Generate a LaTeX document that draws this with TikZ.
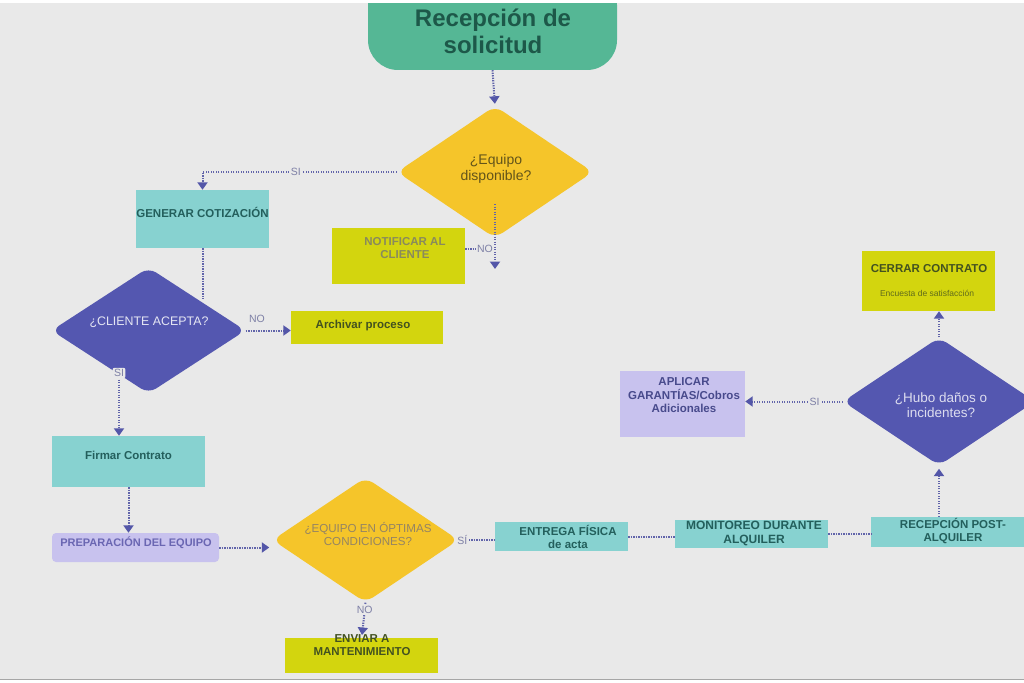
\documentclass[tikz,border=0pt]{standalone}
\usepackage{fontspec}
\setmainfont{Liberation Sans}
\usetikzlibrary{shapes.geometric,arrows.meta}
\definecolor{bgc}{HTML}{E9E9E9}
\definecolor{startc}{HTML}{55B795}
\definecolor{titlec}{HTML}{1D5849}
\definecolor{yel}{HTML}{F5C52A}
\definecolor{tealc}{HTML}{87D2D0}
\definecolor{limec}{HTML}{D3D50E}
\definecolor{purp}{HTML}{5457B0}
\definecolor{lav}{HTML}{C8C2EE}
\definecolor{connc}{HTML}{6164AA}
\definecolor{arrc}{HTML}{5356A8}
\definecolor{lblc}{HTML}{7E80A6}
\definecolor{tealtxt}{HTML}{235F5C}
\definecolor{olivetxt}{HTML}{435220}
\definecolor{yeltxt}{HTML}{62541A}
\definecolor{lavtxt}{HTML}{6A66B2}
\definecolor{apltxt}{HTML}{484A8C}
\begin{document}
\begin{tikzpicture}[x=1pt,y=-1pt,
  box/.style={rectangle, inner sep=0pt, minimum width=#1, draw=none},
  tealbox/.style={box=133pt, fill=tealc},
  limebox/.style={box=133pt, fill=limec},
  dia/.style={diamond, inner sep=0pt, rounded corners=9pt, draw=none},
  btxt/.style={font=\fontsize{11.5}{13.5}\selectfont\bfseries, align=center, inner sep=0pt},
  lbl/.style={font=\fontsize{10.5}{11}\selectfont, text=lblc, inner sep=1.5pt},
  conn/.style={draw=connc, line width=2pt, dash pattern=on 1.3pt off 1.2pt},
  arr/.style={conn, -{Triangle[width=10pt,length=7.5pt,color=arrc]}}
]
\useasboundingbox (0,0) rectangle (1024,682);
\fill[white] (0,0) rectangle (1024,682);
\fill[bgc] (0,3) rectangle (1024,679);
\draw[black!35, line width=0.8pt] (0,679.4) -- (1024,679.4);

% start
\node[rectangle, fill=startc, rounded corners=30pt, minimum width=249pt, minimum height=95pt, inner sep=0pt] (start) at (492.5,22.5) {};
\node[font=\fontsize{24}{27}\selectfont\bfseries, text=titlec, align=center] (title) at (493,31) {Recepción de\\solicitud};

% diamonds
\node[dia, fill=yel, minimum width=196pt, minimum height=132pt] (d1) at (495,172) {};
\node[font=\fontsize{14}{16.5}\selectfont, text=yeltxt, align=center] (d1t) at (496,169) {¿Equipo\\disponible?};

\node[dia, fill=purp, minimum width=194pt, minimum height=126pt] (d2) at (148.5,330.5) {};
\node[font=\fontsize{12.4}{14}\selectfont, text=white!85!purp] (d2t) at (149,322) {¿CLIENTE ACEPTA?};

\node[dia, fill=yel, minimum width=186pt, minimum height=125pt] (d3) at (365.5,540) {};
\node[font=\fontsize{11.6}{13.5}\selectfont, text=yel!40!lblc!85!black, align=center] (d3t) at (368,534) {¿EQUIPO EN ÓPTIMAS\\CONDICIONES?};

\node[dia, fill=purp, minimum width=192pt, minimum height=128pt] (d4) at (939,401.5) {};
\node[font=\fontsize{13.5}{14.5}\selectfont, text=white!80!purp, align=center] (d4t) at (941,405) {¿Hubo daños o\\incidentes?};

% boxes
\node[tealbox, minimum height=58pt] (gen) at (202.5,219) {};
\node[btxt, text=tealtxt] (gent) at (202.5,212) {GENERAR COTIZACIÓN};

\node[limebox, minimum height=56pt] (notif) at (398.5,256) {};
\node[btxt, text=limec!35!black!65] (notift) at (405,248) {NOTIFICAR AL\\CLIENTE};

\node[box=152pt, fill=limec, minimum height=33pt] (arch) at (367,327.5) {};
\node[btxt, text=olivetxt] (archt) at (363,326) {Archivar proceso};

\node[box=153pt, fill=tealc, minimum height=51pt] (firm) at (128.5,461.5) {};
\node[btxt, text=tealtxt] (firmt) at (128.5,455) {Firmar Contrato};

\node[box=167pt, fill=lav, minimum height=29pt, rounded corners=4pt] (prep) at (135.5,547.5) {};
\node[btxt, text=lavtxt, font=\fontsize{11}{13}\selectfont\bfseries] (prept) at (136,543) {PREPARACIÓN DEL EQUIPO};

\node[tealbox, minimum height=29pt] (entrega) at (561.5,536.5) {};
\node[btxt, text=tealtxt] (entt) at (568,537) {ENTREGA FÍSICA\\de acta};

\node[box=153pt, fill=tealc, minimum height=28pt] (monit) at (751.5,534) {};
\node[btxt, text=tealtxt, font=\fontsize{12}{13.5}\selectfont\bfseries] (monitt) at (754,533.5) {MONITOREO DURANTE\\ALQUILER};

\node[box=160pt, fill=tealc, minimum height=30pt] (recep) at (951,532) {};
\node[btxt, text=tealtxt] (recept) at (953,531) {RECEPCIÓN POST-\\ALQUILER};

\node[box=125pt, fill=lav, minimum height=66pt] (apl) at (682.5,404) {};
\node[btxt, text=apltxt] (aplt) at (684,395.5) {APLICAR\\GARANTÍAS/Cobros\\Adicionales};

\node[limebox, minimum height=60pt] (cerrar) at (928.5,281) {};
\node[btxt, text=olivetxt] (cerrart) at (929,269) {CERRAR CONTRATO};
\node[font=\fontsize{8.5}{9}\selectfont, text=olivetxt!80!limec, inner sep=0pt] (cerrars) at (927,293) {Encuesta de satisfacción};

\node[box=153pt, fill=limec, minimum height=35pt] (env) at (361.5,655.5) {};
\node[btxt, text=olivetxt] (envt) at (362,645) {ENVIAR A\\MANTENIMIENTO};

% connectors
\draw[arr, shorten >=2pt] (start.south) -- (d1.north);
\draw[arr] (d1.west) -- node[lbl, fill=bgc, pos=0.52] {SI} (gen.north |- d1.west) -- (gen.north);
\draw[conn] (gen.south) -- (gen.south |- d2.north east);
\draw[arr] (d2.east) -- node[lbl, pos=0.25, above=5pt] {NO} (d2.east -| arch.west);
\coordinate (c5s) at (119,377);
\draw[arr] (c5s) -- (c5s |- firm.north);
\node[lbl, fill=bgc, rounded corners=2pt] (sil) at (119,373) {SI};
\draw[arr] (firm.south) -- (firm.south |- prep.north);
\draw[arr, shorten >=3pt] (prep.east) -- (prep.east -| d3.west);
\draw[conn] (d3.east) -- node[lbl, fill=bgc, pos=0.1] {SÍ} (d3.east -| entrega.west);
\draw[conn] (entrega.east) -- (entrega.east -| monit.west);
\draw[conn] (monit.east) -- (monit.east -| recep.west);
\draw[arr, shorten >=3pt] (d4.south |- recep.north) -- (d4.south);
\draw[arr] (d4.west) -- node[lbl, fill=bgc, pos=0.29] {SI} (d4.west -| apl.east);
\draw[arr] (d4.north) -- (d4.north |- cerrar.south);
\coordinate (d1a) at (495,204);
\coordinate (d1no) at (495,269);
\draw[arr] (d1a) -- (d1no);
\node[lbl] (nolab) at (485,249) {NO};
\draw[conn] (notif.east |- nolab) -- (nolab.west);
\coordinate (c15e) at (362,635);
\draw[arr] (d3.south) -- node[lbl, fill=bgc, pos=0.22] {NO} (c15e);

\fill[white] (0,0) rectangle (1024,3);
\end{tikzpicture}
\end{document}
